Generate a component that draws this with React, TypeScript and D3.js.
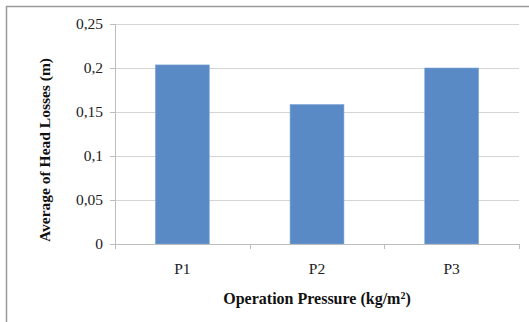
import React from "react";
import * as d3 from "d3";

const categories = ["P1", "P2", "P3"];
const values = [0.2035, 0.1585, 0.2];
const yTicks = [0, 0.05, 0.1, 0.15, 0.2, 0.25];
const yTickLabels = ["0", "0,05", "0,1", "0,15", "0,2", "0,25"];

export default function App() {
  const W = 529, H = 322;
  const left = 115, right = 519, top = 24, bottom = 244;
  const x = d3.scaleBand<string>().domain(categories).range([left, right]).paddingInner(0.6).paddingOuter(0.3);
  const xb = d3.scaleBand<string>().domain(categories).range([left, right]);
  const y = d3.scaleLinear().domain([0, 0.25]).range([bottom, top]);
  const font = "'Liberation Serif', 'Times New Roman', serif";
  return (
    <svg width={W} height={H} style={{ position: "absolute", left: 0, top: 0, display: "block" }}>
      <rect x={0} y={0} width={W} height={H} fill="#fff" />
      <rect x={6.5} y={6.5} width={W + 10} height={H + 10} fill="none" stroke="#9a9a9a" strokeWidth={1.5} />
      {yTicks.map((t, i) => (
        <g key={i}>
          {t > 0 && <line x1={left} x2={right} y1={Math.round(y(t)) + 0.5} y2={Math.round(y(t)) + 0.5} stroke="#d4d4d4" strokeWidth={1} />}
          <line x1={left - 5} x2={left} y1={Math.round(y(t)) + 0.5} y2={Math.round(y(t)) + 0.5} stroke="#bdbdbd" />
          <text x={103} y={y(t)} dy="0.35em" textAnchor="end" fontFamily={font} fontSize={15.5} fill="#222">{yTickLabels[i]}</text>
        </g>
      ))}
      {categories.map((c, i) => (
        <rect key={c} x={x(c)} y={y(values[i])} width={x.bandwidth()} height={bottom - y(values[i])} fill="#5A8AC6" stroke="#7fa6d6" strokeWidth={0.6} />
      ))}
      <line x1={left + 0.5} x2={left + 0.5} y1={top} y2={bottom} stroke="#bdbdbd" />
      <line x1={left} x2={right} y1={bottom + 0.5} y2={bottom + 0.5} stroke="#bdbdbd" />
      {[...categories.map((c) => xb(c) as number), right].map((v, i) => (
        <line key={i} x1={Math.round(v) + 0.5} x2={Math.round(v) + 0.5} y1={bottom} y2={bottom + 5} stroke="#bdbdbd" />
      ))}
      {categories.map((c) => (
        <text key={c} x={(xb(c) as number) + xb.bandwidth() / 2} y={274} textAnchor="middle" fontFamily={font} fontSize={15.5} fill="#222">{c}</text>
      ))}
      <text x={317} y={304} textAnchor="middle" fontFamily={font} fontSize={16} fontWeight="bold" fill="#111">
        Operation Pressure (kg/m<tspan baselineShift="super" fontSize={10}>2</tspan>)
      </text>
      <text transform={`translate(50,150) rotate(-90)`} textAnchor="middle" fontFamily={font} fontSize={15.5} fontWeight="bold" fill="#111">
        Average of Head Losses (m)
      </text>
    </svg>
  );
}
